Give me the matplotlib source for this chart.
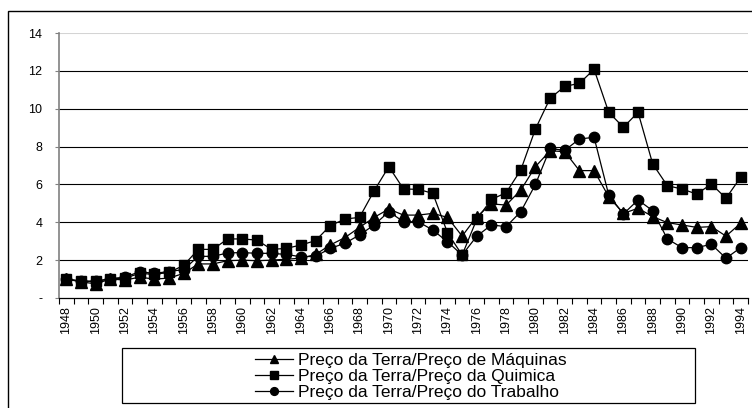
from __future__ import annotations

import matplotlib

matplotlib.use("Agg")
import matplotlib.pyplot as plt
import numpy as np
from matplotlib.patches import Rectangle

anos = list(range(1948, 1995))

maquinas = [
    1.0, 0.85, 0.75, 1.0, 0.95, 1.1, 1.0, 1.05, 1.3, 1.8,
    1.8, 1.97, 2.0, 1.97, 2.0, 2.05, 2.1, 2.3, 2.8, 3.19,
    3.73, 4.26, 4.7, 4.38, 4.38, 4.47, 4.26, 3.27, 4.3, 4.97,
    4.91, 5.7, 6.94, 7.78, 7.73, 6.73, 6.73, 5.35, 4.47, 4.74,
    4.3, 3.98, 3.86, 3.73, 3.77, 3.27, 3.95,
]
quimica = [
    1.0, 0.88, 0.88, 1.02, 1.05, 1.3, 1.25, 1.35, 1.72, 2.57,
    2.57, 3.12, 3.12, 3.06, 2.57, 2.62, 2.8, 3.03, 3.82, 4.17,
    4.26, 5.67, 6.94, 5.76, 5.74, 5.53, 3.45, 2.27, 4.16, 5.21,
    5.56, 6.76, 8.93, 10.55, 11.18, 11.34, 12.08, 9.81, 9.02, 9.81,
    7.08, 5.93, 5.76, 5.49, 6.02, 5.27, 6.38,
]
trabalho = [
    1.0, 0.9, 0.88, 1.02, 1.1, 1.39, 1.3, 1.4, 1.5, 2.2,
    2.2, 2.38, 2.4, 2.36, 2.36, 2.3, 2.18, 2.2, 2.62, 2.89,
    3.33, 3.86, 4.56, 4.03, 4.03, 3.59, 2.97, 2.27, 3.27, 3.86,
    3.77, 4.56, 6.0, 7.9, 7.8, 8.4, 8.49, 5.44, 4.44, 5.18,
    4.61, 3.12, 2.66, 2.66, 2.84, 2.1, 2.66,
]

rotulos = [
    "Preço da Terra/Preço de Máquinas",
    "Preço da Terra/Preço da Quimica",
    "Preço da Terra/Preço do Trabalho",
]
y_ticks = [0, 2, 4, 6, 8, 10, 12, 14]
y_labels = ["-", "2", "4", "6", "8", "10", "12", "14"]

W, H = 752, 408


def main() -> None:
    plt.rcParams["font.family"] = ["Liberation Sans", "DejaVu Sans"]
    fig = plt.figure(figsize=(W / 100, H / 100), dpi=100)
    ax = fig.add_axes([59 / W, 1 - 298 / H, (748 - 59) / W, (298 - 33) / H])

    x = np.arange(len(anos))
    for gy in y_ticks[1:-1]:
        ax.axhline(gy, color="black", lw=0.8, zorder=1)
    ax.axhline(14, color="#d4d4d4", lw=1.5, zorder=1)

    ax.plot(x, maquinas, color="black", lw=0.9, marker="^", ms=8.5, zorder=3, label=rotulos[0])
    ax.plot(x, trabalho, color="black", lw=0.9, marker="o", ms=7.5, zorder=4, label=rotulos[2])
    ax.plot(x, quimica, color="black", lw=0.9, marker="s", ms=7.5, zorder=5, label=rotulos[1])

    ax.set_xlim(-0.5, len(anos) - 0.5)
    ax.set_ylim(0, 14)

    ax.set_yticks(y_ticks)
    ax.set_yticklabels(y_labels, fontsize=9)
    ax.tick_params(axis="y", length=3, width=0.8, color="#808080", pad=9)

    ax.set_xticks(x[::2])
    ax.set_xticklabels([str(a) for a in anos[::2]], rotation=90, fontsize=9)
    ax.set_xticks(np.arange(-0.5, len(anos), 1), minor=True)
    ax.tick_params(axis="x", which="major", length=0, pad=6)
    ax.tick_params(axis="x", which="minor", length=4, width=0.8, color="black")

    for lado in ["top", "right"]:
        ax.spines[lado].set_visible(False)
    ax.spines["left"].set_color("#808080")
    ax.spines["left"].set_linewidth(1.2)
    ax.spines["bottom"].set_color("black")
    ax.spines["bottom"].set_linewidth(0.9)

    # moldura externa
    fig.add_artist(Rectangle((8 / W, -0.1), 1.2, 0.1 + (H - 10.7) / H, transform=fig.transFigure,
                             fill=False, edgecolor="black", lw=1.0))

    # caixa da legenda
    fig.add_artist(Rectangle((122 / W, 1 - 403.3 / H), (695 - 122) / W, (403.3 - 347.7) / H,
                             transform=fig.transFigure, fill=False, edgecolor="black", lw=0.9))
    handles, labels = ax.get_legend_handles_labels()
    ordem = [0, 2, 1]
    fig.legend(
        [handles[i] for i in ordem],
        [labels[i] for i in ordem],
        loc="center",
        bbox_to_anchor=(411 / W, 1 - 376.5 / H),
        frameon=False,
        fontsize=12.5,
        markerscale=0.75,
        handlelength=2.2,
        handletextpad=0.3,
        labelspacing=0.05,
        borderpad=0,
    )

    fig.savefig("out.png", dpi=100)
    plt.close(fig)


if __name__ == "__main__":
    main()
